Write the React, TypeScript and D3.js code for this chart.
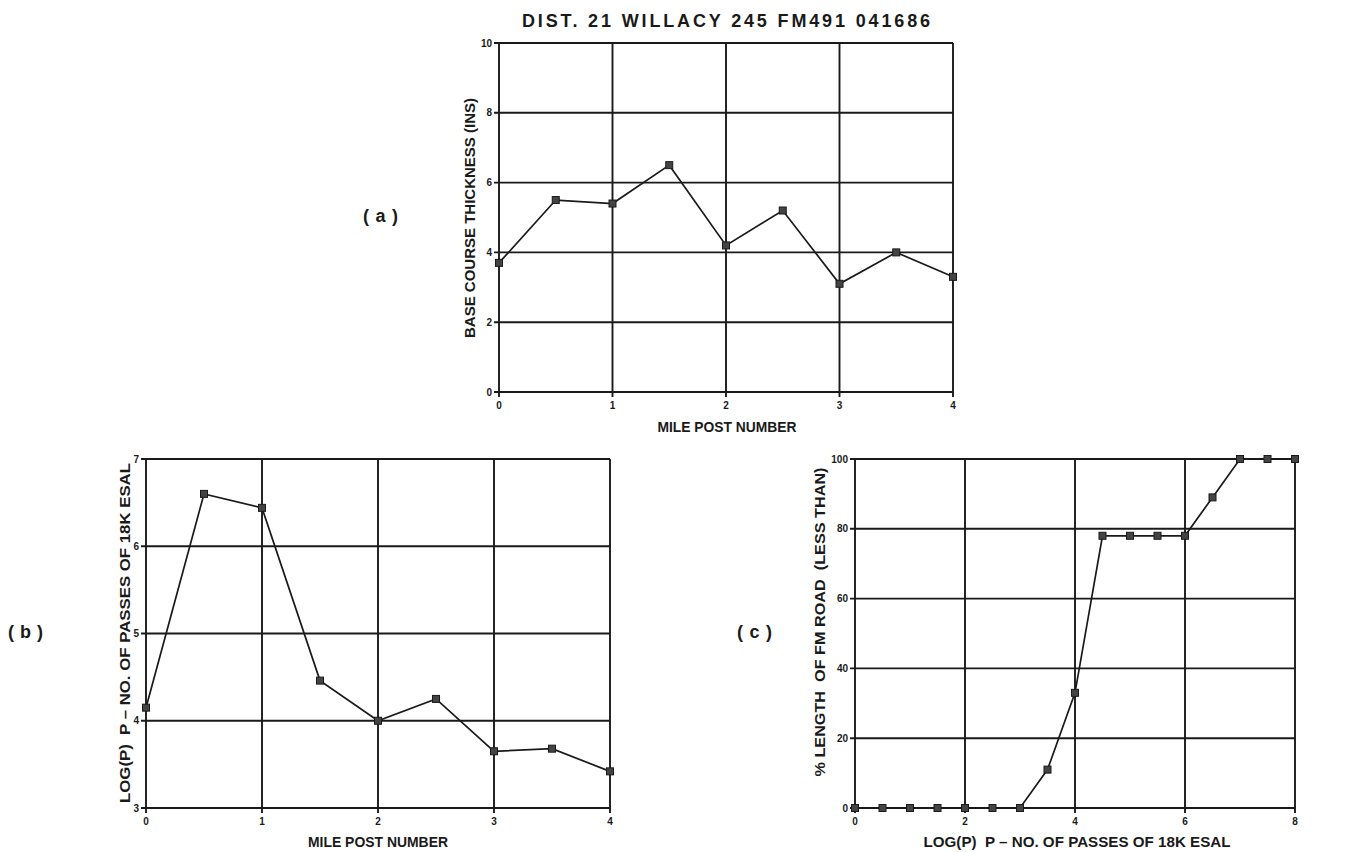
// Willacy FM491 base course / ESAL panels
import React, { useEffect, useRef } from 'react';
import * as d3 from 'd3';

const W = 1349;
const H = 852;

const titleText = 'DIST. 21 WILLACY 245 FM491 041686';

// (a) base course thickness vs mile post
const milePosts = [0, 0.5, 1, 1.5, 2, 2.5, 3, 3.5, 4];
const thickness = [3.7, 5.5, 5.4, 6.5, 4.2, 5.2, 3.1, 4.0, 3.3];
const thicknessTicks = [0, 2, 4, 6, 8, 10];
const mileTicks = [0, 1, 2, 3, 4];

// (b) log(P) vs mile post
const logP = [4.15, 6.6, 6.44, 4.46, 4.0, 4.25, 3.65, 3.68, 3.42];
const logPTicks = [3, 4, 5, 6, 7];

// (c) cumulative % length vs log(P)
const logPBins = [0, 0.5, 1, 1.5, 2, 2.5, 3, 3.5, 4, 4.5, 5, 5.5, 6, 6.5, 7, 7.5, 8];
const pctLength = [0, 0, 0, 0, 0, 0, 0, 11, 33, 78, 78, 78, 78, 89, 100, 100, 100];
const pctTicks = [0, 20, 40, 60, 80, 100];
const logPBinTicks = [0, 2, 4, 6, 8];

const INK = '#1a1a1a';
const FONT = "'Liberation Sans', Arial, sans-serif";

interface PanelSpec {
  x0: number; x1: number; y0: number; y1: number;
  xDomain: [number, number]; yDomain: [number, number];
  xTicks: number[]; yTicks: number[];
  xs: number[]; ys: number[];
  xLabel: string; yLabel: string;
  xLabelLen: number; yLabelLen: number;
  yLabelX: number; yLabelY: number; xLabelY: number; xLabelX: number;
}

function drawPanel(svg: d3.Selection<SVGSVGElement, unknown, null, undefined>, p: PanelSpec) {
  const x = d3.scaleLinear().domain(p.xDomain).range([p.x0, p.x1]);
  const y = d3.scaleLinear().domain(p.yDomain).range([p.y1, p.y0]);
  const g = svg.append('g');

  // grid lines (extend past the frame as tick marks)
  g.selectAll('.hg').data(p.yTicks).enter().append('line')
    .attr('x1', p.x0 - 5).attr('x2', p.x1)
    .attr('y1', d => y(d)).attr('y2', d => y(d))
    .attr('stroke', INK).attr('stroke-width', 1.9);
  g.selectAll('.vg').data(p.xTicks).enter().append('line')
    .attr('y1', p.y0).attr('y2', p.y1 + 5)
    .attr('x1', d => x(d)).attr('x2', d => x(d))
    .attr('stroke', INK).attr('stroke-width', 1.9);

  // tick labels
  g.selectAll('.yt').data(p.yTicks).enter().append('text')
    .attr('x', p.x0 - 7).attr('y', d => y(d) + 3.5)
    .attr('text-anchor', 'end').attr('font-size', 10).attr('font-weight', 'bold')
    .attr('font-family', FONT).attr('fill', INK)
    .text(d => d);
  g.selectAll('.xt').data(p.xTicks).enter().append('text')
    .attr('x', d => x(d)).attr('y', p.y1 + 17)
    .attr('text-anchor', 'middle').attr('font-size', 10).attr('font-weight', 'bold')
    .attr('font-family', FONT).attr('fill', INK)
    .text(d => d);

  // data line + square markers
  const pts = p.xs.map((v, i) => [v, p.ys[i]] as [number, number]);
  const line = d3.line<[number, number]>().x(d => x(d[0])).y(d => y(d[1]));
  g.append('path').datum(pts).attr('d', line)
    .attr('fill', 'none').attr('stroke', INK).attr('stroke-width', 1.7);
  g.selectAll('.mk').data(pts).enter().append('rect')
    .attr('x', d => x(d[0]) - 3.5).attr('y', d => y(d[1]) - 3.5)
    .attr('width', 7).attr('height', 7)
    .attr('fill', '#444').attr('stroke', INK).attr('stroke-width', 1);

  // axis titles
  g.append('text')
    .attr('x', p.xLabelX).attr('y', p.xLabelY)
    .attr('text-anchor', 'middle').attr('font-size', 15).attr('font-weight', 'bold')
    .attr('font-family', FONT).attr('fill', INK)
    .style('white-space', 'pre')
    .attr('textLength', p.xLabelLen).attr('lengthAdjust', 'spacingAndGlyphs')
    .text(p.xLabel);
  g.append('text')
    .attr('transform', `translate(${p.yLabelX},${p.yLabelY}) rotate(-90)`)
    .attr('text-anchor', 'middle').attr('font-size', 15).attr('font-weight', 'bold')
    .attr('font-family', FONT).attr('fill', INK)
    .style('white-space', 'pre')
    .attr('textLength', p.yLabelLen).attr('lengthAdjust', 'spacingAndGlyphs')
    .text(p.yLabel);
}

export default function App() {
  const svgRef = useRef<SVGSVGElement>(null);

  useEffect(() => {
    if (!svgRef.current) return;
    const svg = d3.select(svgRef.current);
    svg.selectAll('*').remove();

    svg.append('rect').attr('width', W).attr('height', H).attr('fill', '#fff');

    svg.append('text')
      .attr('x', 726).attr('y', 27)
      .attr('text-anchor', 'middle').attr('font-size', 18).attr('font-weight', 'bold')
      .attr('font-family', FONT).attr('fill', INK)
      .attr('textLength', 408).attr('lengthAdjust', 'spacing')
      .text(titleText);

    drawPanel(svg, {
      x0: 499, x1: 953, y0: 43, y1: 392,
      xDomain: [0, 4], yDomain: [0, 10],
      xTicks: mileTicks, yTicks: thicknessTicks,
      xs: milePosts, ys: thickness,
      xLabel: 'MILE POST NUMBER', yLabel: 'BASE COURSE THICKNESS (INS)',
      xLabelX: 727, xLabelY: 432, xLabelLen: 139,
      yLabelX: 475, yLabelY: 218, yLabelLen: 240,
    });

    drawPanel(svg, {
      x0: 146, x1: 610, y0: 459, y1: 808,
      xDomain: [0, 4], yDomain: [3, 7],
      xTicks: mileTicks, yTicks: logPTicks,
      xs: milePosts, ys: logP,
      xLabel: 'MILE POST NUMBER', yLabel: 'LOG(P)  P \u2013 NO. OF PASSES OF 18K ESAL',
      xLabelX: 378, xLabelY: 847, xLabelLen: 140,
      yLabelX: 130, yLabelY: 633, yLabelLen: 340,
    });

    drawPanel(svg, {
      x0: 855, x1: 1295, y0: 459, y1: 808,
      xDomain: [0, 8], yDomain: [0, 100],
      xTicks: logPBinTicks, yTicks: pctTicks,
      xs: logPBins, ys: pctLength,
      xLabel: 'LOG(P)  P \u2013 NO. OF PASSES OF 18K ESAL', yLabel: '% LENGTH  OF FM ROAD  (LESS THAN)',
      xLabelX: 1077, xLabelY: 847, xLabelLen: 307,
      yLabelX: 825, yLabelY: 622, yLabelLen: 309,
    });

    const panelTag = (tx: number, ty: number, s: string) =>
      svg.append('text').attr('x', tx).attr('y', ty)
        .attr('font-size', 18).attr('font-weight', 'bold').attr('font-family', FONT).attr('fill', INK)
        .attr('textLength', 35).attr('lengthAdjust', 'spacing')
        .text(s);
    panelTag(363, 222, '(a)');
    panelTag(8, 638, '(b)');
    panelTag(737, 638, '(c)');
  }, []);

  return (
    <div style={{ position: 'absolute', left: 0, top: 0 }}>
      <svg ref={svgRef} width={W} height={H} style={{ display: 'block' }} />
    </div>
  );
}
